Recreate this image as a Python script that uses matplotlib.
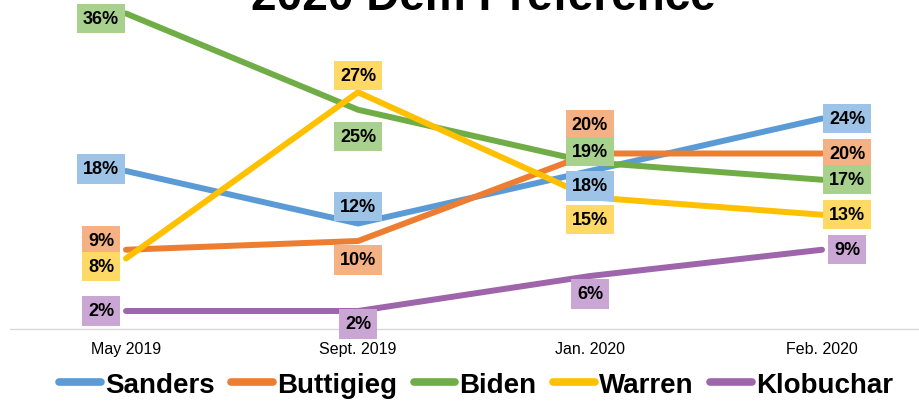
import matplotlib
matplotlib.use("Agg")
import matplotlib.pyplot as plt

plt.rcParams['font.family'] = ['Liberation Sans Narrow', 'Liberation Sans', 'DejaVu Sans']

# Dados
periodos = ["May 2019", "Sept. 2019", "Jan. 2020", "Feb. 2020"]
candidatos = ["Sanders", "Buttigieg", "Biden", "Warren", "Klobuchar"]
sanders = [18, 12, 18, 24]
buttigieg = [9, 10, 20, 20]
biden = [36, 25, 19, 17]
warren = [8, 27, 15, 13]
klobuchar = [2, 2, 6, 9]
valores = [sanders, buttigieg, biden, warren, klobuchar]

# Estilo
cores = ["#5B9BD5", "#ED7D31", "#70AD47", "#FFC000", "#9E65AA"]
cores_caixa = ["#9DC3E6", "#F4B183", "#A9D18E", "#FFD966", "#C9A6D3"]
# deslocamento dos rótulos (pixels) para cada ponto
desloc = [
    [(-25, 2), (0, 17), (0, -15), (25, 0)],
    [(-25, 9), (0, -19), (0, 29), (25, 0)],
    [(-25, -5), (0, -27), (0, 11), (25, 0)],
    [(-25, -8), (0, 17), (0, -22), (25, 0)],
    [(-25, 0), (0, -13), (0, -18), (25, 0)],
]

fig = plt.figure(figsize=(9.19, 4.02), dpi=100)
ax = fig.add_axes([10 / 919, 72.5 / 402, 928 / 919, 350 / 402])

x = list(range(len(periodos)))
for i, nome in enumerate(candidatos):
    ax.plot(x, valores[i], color=cores[i], lw=4.3, label=nome, solid_capstyle='round',
            solid_joinstyle='round', clip_on=False)

for i, nome in enumerate(candidatos):
    for j, v in enumerate(valores[i]):
        dx, dy = desloc[i][j]
        ax.annotate(f"{v}%", (j, v), xytext=(dx * 0.72, dy * 0.72), textcoords='offset points',
                    ha='center', va='center', fontsize=13, fontweight='bold', color='black',
                    bbox=dict(boxstyle='square,pad=0.34', fc=cores_caixa[i], ec='none'),
                    zorder=5, annotation_clip=False)

ax.set_xlim(-0.5, 3.5)
ax.set_ylim(0, 40)
ax.set_yticks([])
ax.set_xticks(x)
ax.set_xticklabels(periodos, fontsize=11.5)
ax.tick_params(axis='x', length=0, pad=9)
for s in ['top', 'right', 'left']:
    ax.spines[s].set_visible(False)
ax.spines['bottom'].set_color('#D9D9D9')
ax.spines['bottom'].set_linewidth(1)

# título cortado no topo, como na referência
fig.text(0.526, 0.974, "2020 Dem Preference", ha='center', va='baseline',
         fontsize=33, fontweight='bold', family=['Liberation Sans', 'DejaVu Sans'])

leg = fig.legend(loc='center', bbox_to_anchor=(0.518, 0.04), ncol=5, frameon=False,
                 prop={'size': 20, 'weight': 'bold'}, handlelength=1.5, handletextpad=0.15,
                 columnspacing=0.6)
for linha in leg.get_lines():
    linha.set_linewidth(5.5)

fig.savefig("out.png", dpi=100)
